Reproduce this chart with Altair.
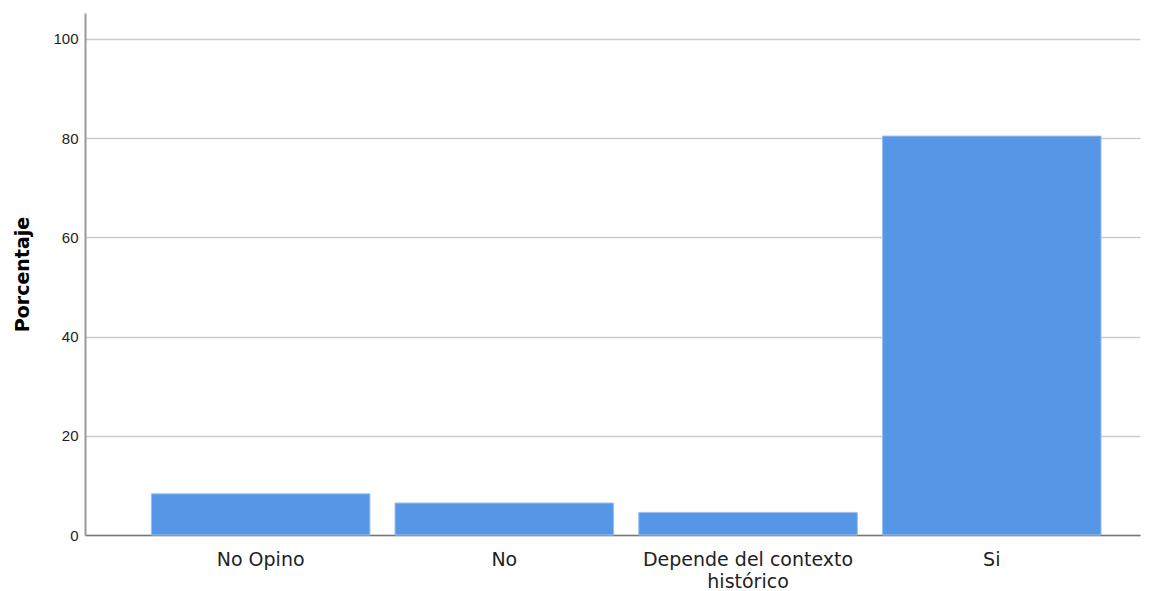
import altair as alt
import pandas as pd

categories = ["No Opino", "No", "Depende del contexto histórico", "Si"]
percentages = [8.3, 6.45, 4.55, 80.4]
tick_values = [0, 20, 40, 60, 80, 100]

df = pd.DataFrame({"categoria": categories, "porcentaje": percentages})

FONT = "Liberation Sans"
WIDE = "DejaVu Sans"

chart = alt.Chart(df).mark_bar(
    color="#5596e6", stroke="#9cc2f0", strokeWidth=1
).encode(
    x=alt.X(
        "categoria:N",
        sort=categories,
        title=None,
        scale=alt.Scale(paddingInner=0.103, paddingOuter=0.216, align=0.63),
        axis=alt.Axis(
            labelAngle=0,
            labelFontSize=19,
            labelFont=WIDE,
            labelColor="#222222",
            labelPadding=15,
            labelBaseline="top",
            labelLimit=400,
            ticks=False,
            domainColor="#777777",
            domainWidth=1.5,
            labelExpr="datum.value == 'Depende del contexto histórico' ? ['Depende del contexto', 'histórico'] : datum.label",
            labelLineHeight=22,
        ),
    ),
    y=alt.Y(
        "porcentaje:Q",
        title="Porcentaje",
        scale=alt.Scale(domain=[0, 105.2], nice=False),
        axis=alt.Axis(
            values=tick_values,
            labelFontSize=15,
            labelFont=FONT,
            labelColor="#222222",
            labelPadding=7,
            ticks=False,
            grid=True,
            gridColor="#cccccc",
            gridWidth=1.5,
            domainColor="#999999",
            domainWidth=2,
            titleFont=WIDE,
            titleFontSize=19,
            titleFontWeight="bold",
            titleColor="#000000",
            titlePadding=20,
        ),
    ),
).properties(
    width=1055,
    height=522,
    padding={"left": 77, "top": 5, "right": 6, "bottom": 60},
    autosize=alt.AutoSizeParams(type="none"),
).configure_view(stroke=None)

chart.save("out.html", embed_options={"renderer": "svg", "actions": False})
